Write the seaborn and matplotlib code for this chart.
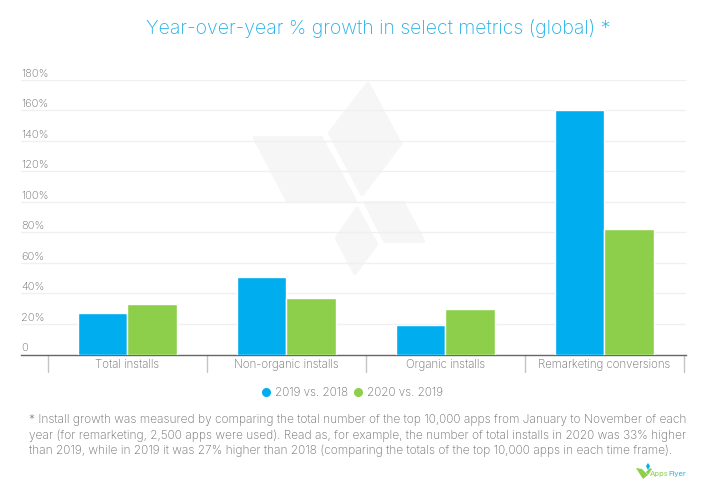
import matplotlib
matplotlib.use('Agg')
import matplotlib.pyplot as plt
from matplotlib.patches import Polygon
import pandas as pd
import seaborn as sns

categories = ['Total installs', 'Non-organic installs', 'Organic installs', 'Remarketing conversions']
growth_2019 = [27, 51, 19, 160]
growth_2020 = [33, 37, 30, 82]
series_names = ['2019 vs. 2018', '2020 vs. 2019']
y_ticks = [0, 20, 40, 60, 80, 100, 120, 140, 160, 180]
y_labels = ['0', '20%', '40%', '60%', '80%', '100%', '120%', '140%', '160%', '180%']

note_lines = [
    '* Install growth was measured by comparing the total number of the top 10,000 apps from January to November of each',
    'year (for remarketing, 2,500 apps were used). Read as, for example, the number of total installs in 2020 was 33% higher',
    'than 2019, while in 2019 it was 27% higher than 2018 (comparing the totals of the top 10,000 apps in each time frame).',
]

W, H = 722, 481
BLUE = '#00AEEF'
GREEN = '#8DCF4B'
TEXT = '#6b6b6b'

sns.set_theme(style='white')
plt.rcParams['font.family'] = ['Inter', 'DejaVu Sans']
plt.rcParams['font.weight'] = 'light'

df = pd.DataFrame({
    'metric': categories * 2,
    'series': [series_names[0]] * 4 + [series_names[1]] * 4,
    'growth': growth_2019 + growth_2020,
})


def fig_poly(pts, **kw):
    # pts are in pixels from the top left of the image
    fig.add_artist(Polygon([(x / W, 1 - y / H) for x, y in pts], closed=True,
                           transform=fig.transFigure, **kw))


fig = plt.figure(figsize=(W / 100, H / 100), dpi=100, facecolor='white')
ax = fig.add_axes([21 / W, 1 - 355.5 / H, 665 / W, 274.8 / H], facecolor='none')

sns.barplot(data=df, x='metric', y='growth', hue='series', palette=[BLUE, GREEN],
            width=0.625, gap=0.01, saturation=1, legend=False, ax=ax, zorder=3)

ax.set_xlim(-0.667, 3.515)
ax.set_ylim(0, 180)
ax.set_xlabel('')
ax.set_ylabel('')
ax.set_yticks(y_ticks)
ax.set_yticklabels([])
ax.tick_params(axis='both', length=0, labelbottom=False)
ax.grid(axis='y', color='#f0f0f0', lw=1, zorder=0)
ax.set_axisbelow(True)
sns.despine(ax=ax, left=True, top=True, right=True)
ax.spines['bottom'].set_color('#666666')
ax.spines['bottom'].set_linewidth(1)

trans = ax.get_yaxis_transform()
for tick, lab in zip(y_ticks, y_labels):
    ax.annotate(lab, (0, tick), xycoords=trans, xytext=(0, 7), textcoords='offset pixels',
                fontsize=8, color=TEXT, ha='left', va='center')

xtrans = ax.get_xaxis_transform()
for i, cat in enumerate(categories):
    ax.text(i, -0.034, cat, transform=xtrans, fontsize=8.3, color=TEXT, ha='center', va='center')
for i in range(5):
    ax.plot([i - 0.5, i - 0.5], [0, -0.065], transform=xtrans, color='#c4c4c4', lw=1, clip_on=False)

# watermark behind the bars, inset polygons with a thick round edge
wm = '#f6f6f6'
shapes = [
    [(255, 139), (321, 139), (355, 202), (288, 202)],
    [(368, 85), (400, 145), (362, 195), (330, 134)],
    [(366, 204), (403, 204), (423, 242), (385, 242)],
    [(357, 210), (376, 245), (355, 274), (337, 239)],
]
for pts in shapes:
    fig_poly(pts, facecolor=wm, edgecolor=wm, lw=3, joinstyle='round', zorder=-1)

fig.text(378 / W, 1 - 28 / H, 'Year-over-year % growth in select metrics (global) *',
         fontsize=14, color='#1fb0ea', ha='center', va='center')

fig.add_artist(plt.Line2D([266 / W], [1 - 393 / H], marker='o', ms=6.5, color=BLUE, mew=0))
fig.text(275 / W, 1 - 393 / H, series_names[0], fontsize=8.4, color=TEXT, va='center')
fig.add_artist(plt.Line2D([358 / W], [1 - 393 / H], marker='o', ms=6.5, color=GREEN, mew=0))
fig.text(367 / W, 1 - 393 / H, series_names[1], fontsize=8.4, color=TEXT, va='center')

for y, line in zip([420, 436, 451], note_lines):
    fig.text(29 / W, 1 - y / H, line, fontsize=8.55, color=TEXT, va='center')

# small logo bottom right
fig.text(650 / W, 1 - 474 / H, 'Apps', fontsize=5.5, color=GREEN, va='center', weight='normal')
fig.text(668 / W, 1 - 474 / H, 'Flyer', fontsize=5.5, color='#29b6d8', va='center', weight='normal')
fig_poly([(636, 469), (642, 470), (648, 476), (643, 480)], facecolor=GREEN, edgecolor='none')
fig_poly([(648, 476), (652, 470), (650, 469), (646, 473)], facecolor=GREEN, edgecolor='none')
fig_poly([(646, 467), (648, 464), (650, 467), (648, 471)], facecolor=BLUE, edgecolor='none')

fig.savefig('out.png', dpi=100, facecolor='white')
